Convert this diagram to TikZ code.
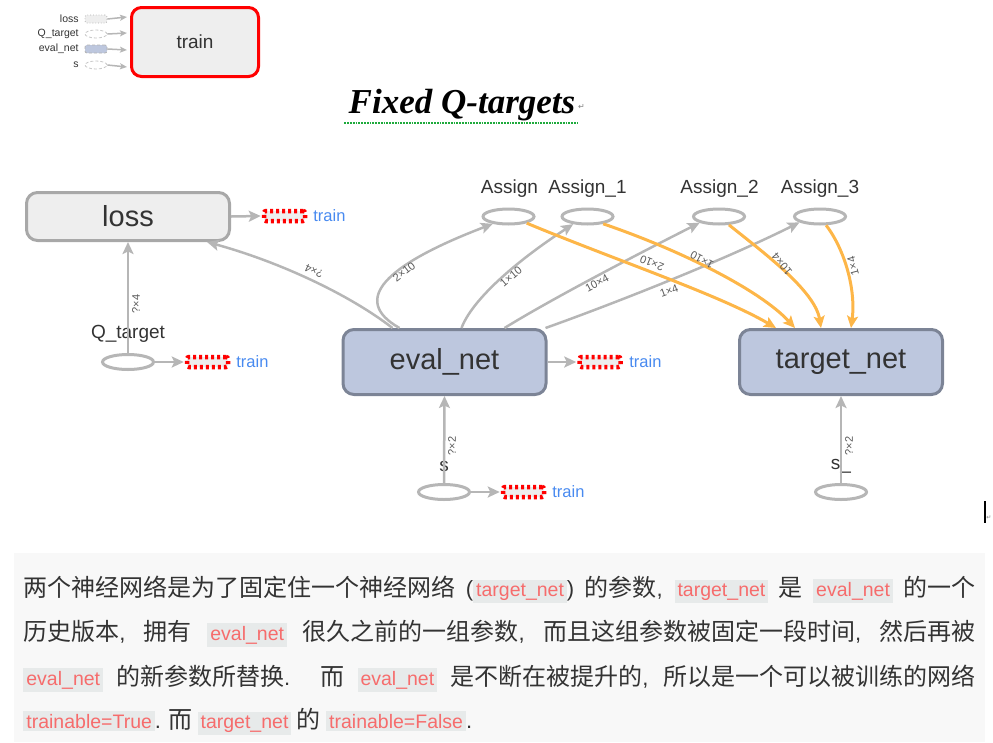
\documentclass[tikz,border=0pt]{standalone}
\usepackage{fontspec}
\setmainfont{Liberation Sans}
\newfontfamily\cjkfont{Noto Sans CJK SC}
\newfontfamily\titlefont{Liberation Serif}
\newfontfamily\markfont{DejaVu Sans}
\usetikzlibrary{arrows.meta,shapes.geometric}

\definecolor{edgegray}{RGB}{182,182,182}
\definecolor{refedge}{RGB}{253,182,72}
\definecolor{opfill}{RGB}{238,238,238}
\definecolor{opdraw}{RGB}{168,168,168}
\definecolor{netfill}{RGB}{189,199,222}
\definecolor{netdraw}{RGB}{124,132,150}
\definecolor{darktext}{RGB}{51,51,51}
\definecolor{lblgray}{RGB}{90,90,90}
\definecolor{trainblue}{RGB}{72,138,240}
\definecolor{codefg}{RGB}{246,108,108}
\definecolor{codebg}{RGB}{231,234,234}
\definecolor{parabg}{RGB}{248,248,248}
\definecolor{dotgreen}{RGB}{30,170,60}

\newcommand\code[1]{{\setlength\fboxsep{3pt}\colorbox{codebg}{\rmfamily\fontsize{19.5}{22}\selectfont\textcolor{codefg}{#1}}}}
\newcommand\lat[1]{{\rmfamily\fontsize{22}{24}\selectfont #1}}

\begin{document}
\begin{tikzpicture}[x=1pt,y=-1pt,thick,
    op node/.style={rectangle, rounded corners=11pt, draw=opdraw, fill=opfill, line width=3pt,
                    minimum width=203pt, minimum height=48pt, text=darktext, font=\fontsize{29}{30}\selectfont},
    net node/.style={op node, draw=netdraw, fill=netfill, minimum height=65pt},
    var node/.style={ellipse, draw=edgegray, fill=white, line width=3pt, minimum width=51pt, minimum height=15pt, inner sep=0pt},
    name label/.style={text=darktext, font=\fontsize{19}{20}\selectfont, inner sep=0pt},
    stub node/.style={rectangle, rounded corners=2pt, draw=red, dash pattern=on 3pt off 3pt, line width=4.5pt,
                      fill=opfill, minimum width=41pt, minimum height=10pt, inner sep=0pt},
    train text/.style={text=trainblue, font=\fontsize{16.5}{18}\selectfont, anchor=west, inner sep=0pt},
    shape label/.style={text=lblgray, font=\fontsize{11}{12}\selectfont, inner sep=0pt},
    flow/.style={draw=edgegray, line width=2.5pt, -{Stealth[length=12pt,width=11pt,inset=2.5pt]}},
    ref flow/.style={flow, draw=refedge, line width=3pt},
    key label/.style={anchor=east, text=darktext, font=\fontsize{10.5}{11}\selectfont, inner sep=0pt},
    key box/.style={rectangle, rounded corners=2pt, draw=gray!60, densely dashed, line width=0.8pt,
                    minimum width=22pt, minimum height=8pt, inner sep=0pt},
    key var/.style={key box, ellipse, draw=gray!45},
    key flow/.style={draw=edgegray, line width=1.5pt, -{Stealth[length=7pt,width=6pt,inset=1.5pt]}},
    para line/.style={anchor=base west, inner sep=0pt, text=darktext, font=\cjkfont\fontsize{24}{28}\selectfont}]

  \useasboundingbox (0,0) rectangle (993,742);

  %Key%
  \node[rectangle, rounded corners=10pt, draw=red, line width=3pt, fill=opfill, minimum width=127pt,
        minimum height=69pt, text=darktext, font=\fontsize{19}{20}\selectfont] (train) at (195,42) {train};
  \node[key label] (kloss) at (79,19) {loss};
  \node[key box, fill=opfill, dotted] (klossbox) at (96,19) {};
  \node[key label] (kq) at (79,34) {Q\_target};
  \node[key var] (kqvar) at (96,34) {};
  \node[key label] (keval) at (79,49) {eval\_net};
  \node[key box, fill=netfill] (kevalbox) at (96,49) {};
  \node[key label] (ks) at (79,65) {s};
  \node[key var] (ksvar) at (96,65) {};
  \draw[key flow] (klossbox.east) -- ([xshift=-3pt,yshift=25pt]train.west);
  \draw[key flow] (kqvar.east) -- ([xshift=-3pt,yshift=9pt]train.west);
  \draw[key flow] (kevalbox.east) -- ([xshift=-3pt,yshift=-8pt]train.west);
  \draw[key flow] (ksvar.east) -- ([xshift=-3pt,yshift=-25pt]train.west);

  %Title%
  \node[font=\titlefont\bfseries\itshape\fontsize{35}{40}\selectfont, inner sep=0pt, anchor=base] (title) at (462,113) {Fixed Q-targets};
  \draw[dotgreen, densely dotted, line width=1.8pt] ([xshift=-4pt,yshift=-10pt]title.base west) -- ([xshift=2pt,yshift=-10pt]title.base east);
  \node[font=\markfont\fontsize{8}{8}\selectfont, text=gray, anchor=base west, inner sep=0pt] (titlemark) at ([xshift=2pt,yshift=4pt]title.base east) {↵};

  %Graph%
  \node[op node] (loss) at (128,216.5) {loss};
  \node[net node] (evalnet) at (444.5,362) {eval\_net};
  \node[net node] (targetnet) at (841,362) {target\_net};
  \node[var node] (qtarget) at (128,362) {};
  \node[name label] (qtargetname) at (128,334) {Q\_target};
  \node[var node] (s) at (444,492) {};
  \node[name label] (sname) at (444,466) {s};
  \node[var node] (snext) at (841,492) {};
  \node[name label] (snextname) at (841,466) {s\_};
  \node[var node] (assign0) at (508.5,216.5) {};
  \node[var node] (assign1) at (587.5,216.5) {};
  \node[var node] (assign2) at (719,216.5) {};
  \node[var node] (assign3) at (820,216.5) {};
  \node[name label] (assign0name) at (509.5,189) {Assign};
  \node[name label] (assign1name) at (587.5,189) {Assign\_1};
  \node[name label] (assign2name) at (719.5,189) {Assign\_2};
  \node[name label] (assign3name) at (820,189) {Assign\_3};

  %Train stubs%
  \node[stub node] (losstrain) at (284.5,216) {};
  \node[train text] (losstraintext) at (313,216) {train};
  \node[stub node] (qtrain) at (207.5,362) {};
  \node[train text] (qtraintext) at (236,362) {train};
  \node[stub node] (evaltrain) at (600,362) {};
  \node[train text] (evaltraintext) at (629,362) {train};
  \node[stub node] (strain) at (523.5,492) {};
  \node[train text] (straintext) at (552,492) {train};
  \draw[flow] (loss.east) -- ([xshift=-1pt]losstrain.west);
  \draw[flow] (qtarget.east) -- ([xshift=-1pt]qtrain.west);
  \draw[flow] (evalnet.east) -- ([xshift=-1pt]evaltrain.west);
  \draw[flow] (s.east) -- ([xshift=-1pt]strain.west);

  %Inputs%
  \draw[flow] (qtarget.north) -- (loss.south)
    node[shape label, rotate=90] at (136,304) {?×4};
  \draw[flow] (s.north) -- (evalnet.south)
    node[shape label, rotate=90] at (452,446) {?×2};
  \draw[flow] (snext.north) -- (targetnet.south)
    node[shape label, rotate=90] at (849,446) {?×2};
  \draw[flow] ([xshift=51pt]evalnet.north west) .. controls (350,295) and (280,262) .. ([xshift=79pt]loss.south)
    node[shape label, rotate=155] at (314,271) {?×4};

  %Assign%
  \draw[flow] ([xshift=58pt]evalnet.north west) .. controls (350,300) and (385,265) .. (assign0.205)
    node[shape label, rotate=38] at (404,272) {2×10};
  \draw[flow] ([xshift=120pt]evalnet.north west) .. controls (472,300) and (515,262) .. (assign1.208)
    node[shape label, rotate=40] at (511,277) {1×10};
  \draw[flow] ([xshift=163pt]evalnet.north west) .. controls (550,300) and (630,258) .. (assign2.198)
    node[shape label, rotate=28] at (597,283) {10×4};
  \draw[flow] ([xshift=-2pt]evalnet.north east) .. controls (610,305) and (720,262) .. (assign3.196)
    node[shape label, rotate=20] at (669,291) {1×4};

  %Target%
  \draw[ref flow] (assign0.340) .. controls (610,258) and (720,295) .. ([xshift=-65pt]targetnet.north)
    node[shape label, rotate=158] at (652,263) {2×10};
  \draw[ref flow] (assign1.335) .. controls (680,250) and (760,290) .. ([xshift=-46pt]targetnet.north)
    node[shape label, rotate=152] at (702,260) {1×10};
  \draw[ref flow] (assign2.320) .. controls (760,250) and (815,290) .. ([xshift=-20pt]targetnet.north)
    node[shape label, rotate=130] at (782,264) {10×4};
  \draw[ref flow] (assign3.305) .. controls (845,250) and (856,290) .. ([xshift=10pt]targetnet.north)
    node[shape label, rotate=105] at (853,266) {1×4};

  %Cursor%
  \draw[line width=1.2pt] (985,501) -- (985,523);
  \node[font=\markfont\fontsize{6}{6}\selectfont, text=gray, inner sep=0pt] (cursormark) at (989,518) {↵};

  %Paragraph%
  \fill[parabg] (14,553) rectangle (985,742);
  \node[para line] (line1) at (23,596) {\makebox[952pt][s]{两个神经网络是为了固定住一个神经网络 \lat{(}\code{target\_net}\lat{)} 的参数\lat{,} \code{target\_net} 是 \code{eval\_net} 的一个}};
  \node[para line] (line2) at (23,640) {\makebox[952pt][s]{历史版本\lat{,} 拥有 \code{eval\_net} 很久之前的一组参数\lat{,} 而且这组参数被固定一段时间\lat{,} 然后再被}};
  \node[para line] (line3) at (23,685) {\makebox[952pt][s]{\code{eval\_net} 的新参数所替换\lat{.} 而 \code{eval\_net} 是不断在被提升的\lat{,} 所以是一个可以被训练的网络}};
  \node[para line] (line4) at (23,728) {\code{trainable=True}\lat{.} 而 \code{target\_net} 的 \code{trainable=False}\lat{.}};
\end{tikzpicture}
\end{document}
